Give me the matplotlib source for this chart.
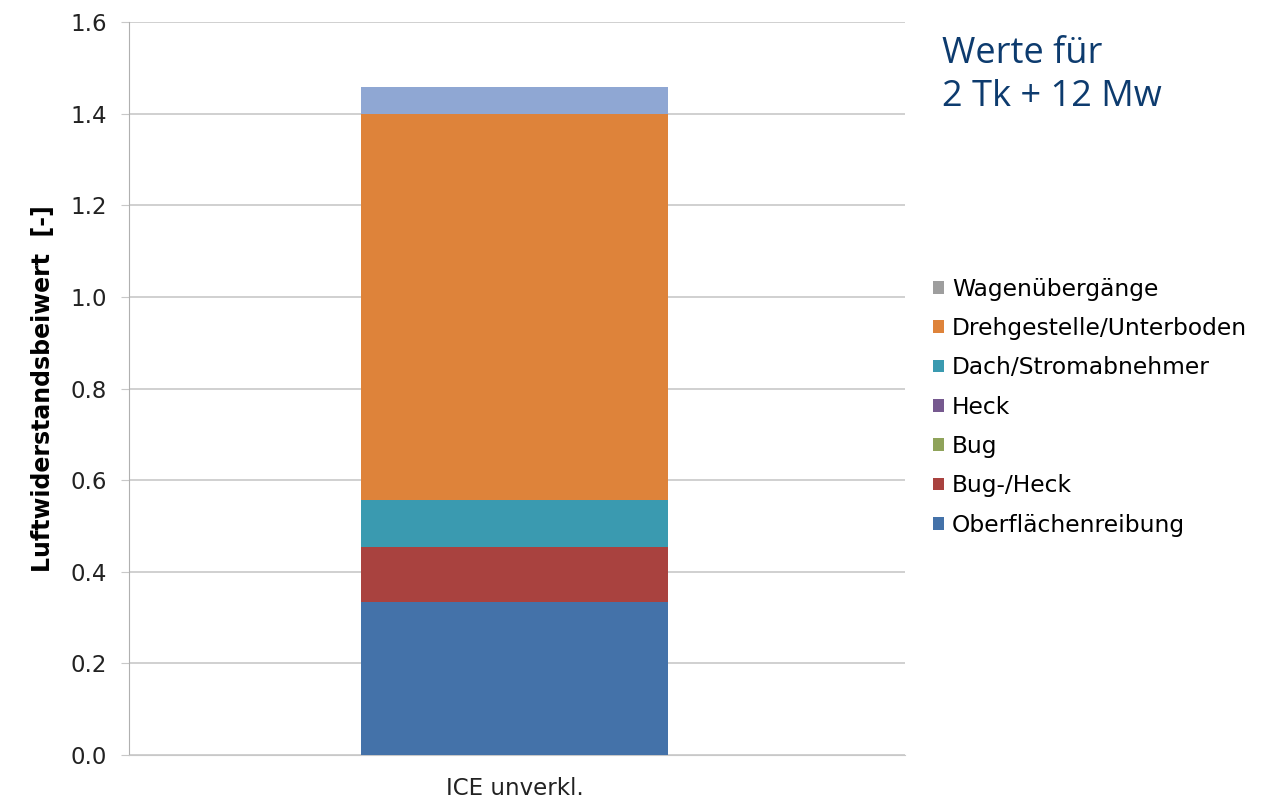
import matplotlib
matplotlib.use("Agg")
import matplotlib.pyplot as plt
from matplotlib.patches import Patch

categories = ["ICE unverkl."]
series_names = ["Oberflächenreibung", "Bug-/Heck", "Bug", "Heck",
                "Dach/Stromabnehmer", "Drehgestelle/Unterboden", "Wagenübergänge"]
series_values = [[0.334], [0.119], [0.0], [0.0], [0.104], [0.843], [0.058]]
bar_colors = ["#4472A9", "#A9423F", "#8FA35A", "#76598F", "#3A9AB0", "#DE833A", "#8FA7D3"]
legend_colors = ["#4472A9", "#A9423F", "#8FA35A", "#76598F", "#3A9AB0", "#DE833A", "#9E9E9E"]
yticks = [0.0, 0.2, 0.4, 0.6, 0.8, 1.0, 1.2, 1.4, 1.6]

plt.rcParams['font.family'] = ['DejaVu Sans']
fig = plt.figure(figsize=(12.81, 8.07), dpi=100)
ax = fig.add_axes([0.1007, 0.0644, 0.6058, 0.9083])

x = list(range(len(categories)))
bottom = [0.0] * len(categories)
for name, vals, c in zip(series_names, series_values, bar_colors):
    ax.bar(x, vals, bottom=bottom, width=0.396, color=c, label=name, zorder=3)
    bottom = [b + v for b, v in zip(bottom, vals)]

ax.set_xlim(-0.497, 0.503)
ax.set_ylim(0, 1.6)
ax.set_yticks(yticks)
ax.set_yticklabels([f"{t:.1f}" for t in yticks], fontsize=16.5, color="#222222")
ax.set_xticks(x)
ax.set_xticklabels(categories, fontsize=16.5, color="#222222")
ax.tick_params(axis='y', length=6, color="#c8c8c8", pad=10)
ax.tick_params(axis='x', length=0, pad=16)
ax.grid(axis='y', color="#c8c8c8", linewidth=1.2, zorder=0)
for s in ["top", "right"]:
    ax.spines[s].set_visible(False)
ax.spines["left"].set_color("#b0b0b0")
ax.spines["bottom"].set_color("#c8c8c8")
ax.set_ylabel("Luftwiderstandsbeiwert  [-]", fontsize=17, fontweight="bold", labelpad=11)

handles = [Patch(facecolor=c, label=n) for n, c in zip(series_names, legend_colors)]
fig.legend(handles=handles[::-1], loc="upper left", bbox_to_anchor=(0.712, 0.682),
           frameon=False, fontsize=16.8, handlelength=0.45, handleheight=0.45,
           handletextpad=0.35, labelspacing=0.7)

fig.text(0.735, 0.955, "Werte für\n2 Tk + 12 Mw", fontsize=26, color="#0D3B6E",
         family="Open Sans", va="top", ha="left", linespacing=1.25)

fig.savefig("out.png", dpi=100)
